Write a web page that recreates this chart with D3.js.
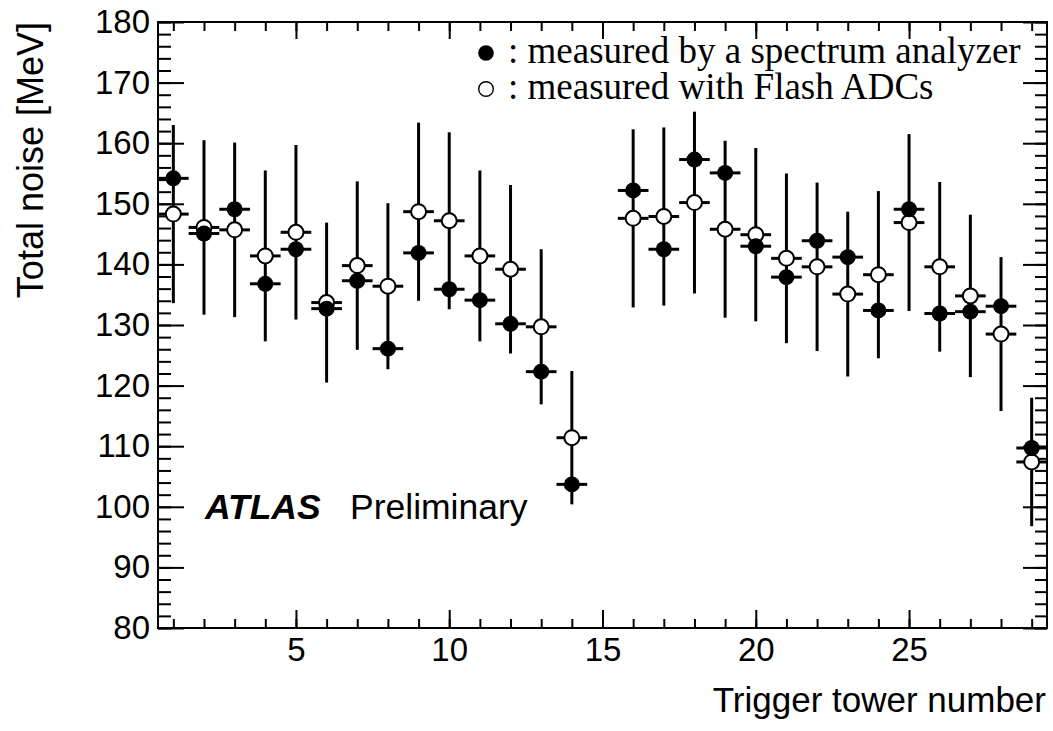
<!DOCTYPE html>
<html>
<head>
<meta charset="utf-8">
<script src="https://cdn.jsdelivr.net/npm/d3@7"></script>
<style>
  body { margin: 0; background: #fff; }
  svg { display: block; }
</style>
</head>
<body>
<div id="chart"></div>
<script>
// tower numbers (15 is missing in the measurement)
const towers = [1,2,3,4,5,6,7,8,9,10,11,12,13,14,16,17,18,19,20,21,22,23,24,25,26,27,28,29];
// spectrum analyzer (filled)
const analyzer = [154.2,145.1,149.1,136.8,142.5,132.7,137.3,126.1,141.9,135.9,134.1,130.2,122.3,103.7,
                  152.2,142.5,157.3,155.1,143.0,137.9,143.9,141.2,132.4,149.1,131.9,132.2,133.1,109.7];
// flash ADCs (open) and their errors
const flash = [148.3,146.1,145.7,141.4,145.3,133.7,139.8,136.4,148.7,147.2,141.4,139.2,129.7,111.4,
               147.6,147.9,150.2,145.8,144.9,141.0,139.6,135.1,138.3,146.9,139.6,134.8,128.5,107.4];
const flashErr = [14.7,14.4,14.4,14.1,14.4,13.2,13.9,13.7,14.7,14.6,14.1,13.9,12.8,11.0,
                  14.7,14.7,15.0,14.6,14.3,14.0,13.9,13.6,13.8,14.6,14.0,13.4,12.7,10.6];

const xMajor = [5,10,15,20,25];
const xMinor = d3.range(1,30);
const yMajor = d3.range(80,181,10);
const yMinor = d3.range(80,181,2);

const W = 1053, H = 731;
const mLeft = 158, mRight = 1047, mTop = 22, mBottom = 628;

const x = d3.scaleLinear().domain([0.5, 29.5]).range([mLeft, mRight]);
const y = d3.scaleLinear().domain([80, 180]).range([mBottom, mTop]);

const sans = '"Liberation Sans", Arial, Helvetica, sans-serif';
const serif = '"Liberation Serif", "Times New Roman", serif';

const svg = d3.select('#chart').append('svg')
  .attr('width', W)
  .attr('height', H);

svg.append('rect')
  .attr('width', W)
  .attr('height', H)
  .style('fill', '#fff');

function styleAxis(g) {
  g.select('.domain').remove();
  g.selectAll('line').style('stroke', '#000').style('stroke-width', 2);
  g.selectAll('text').style('font-family', sans).style('font-size', '33px').style('fill', '#000');
}

// bottom axis
svg.append('g').attr('transform', `translate(0,${mBottom})`)
  .call(d3.axisBottom(x).tickValues(xMinor).tickSize(-9).tickSizeOuter(0).tickFormat(''))
  .call(styleAxis);
svg.append('g').attr('transform', `translate(0,${mBottom})`)
  .call(d3.axisBottom(x).tickValues(xMajor).tickSize(-18).tickSizeOuter(0).tickPadding(10))
  .call(styleAxis);

// top axis
svg.append('g').attr('transform', `translate(0,${mTop})`)
  .call(d3.axisTop(x).tickValues(xMinor).tickSize(-9).tickSizeOuter(0).tickFormat(''))
  .call(styleAxis);
svg.append('g').attr('transform', `translate(0,${mTop})`)
  .call(d3.axisTop(x).tickValues(xMajor).tickSize(-17).tickSizeOuter(0).tickFormat(''))
  .call(styleAxis);

// left axis
svg.append('g').attr('transform', `translate(${mLeft},0)`)
  .call(d3.axisLeft(y).tickValues(yMinor).tickSize(-13).tickSizeOuter(0).tickFormat(''))
  .call(styleAxis);
svg.append('g').attr('transform', `translate(${mLeft},0)`)
  .call(d3.axisLeft(y).tickValues(yMajor).tickSize(-26).tickSizeOuter(0).tickPadding(8))
  .call(styleAxis);

// right axis
svg.append('g').attr('transform', `translate(${mRight},0)`)
  .call(d3.axisRight(y).tickValues(yMinor).tickSize(-12).tickSizeOuter(0).tickFormat(''))
  .call(styleAxis);
svg.append('g').attr('transform', `translate(${mRight},0)`)
  .call(d3.axisRight(y).tickValues(yMajor).tickSize(-24).tickSizeOuter(0).tickFormat(''))
  .call(styleAxis);

// frame
svg.append('rect')
  .attr('x', mLeft)
  .attr('y', mTop)
  .attr('width', mRight - mLeft)
  .attr('height', mBottom - mTop)
  .style('fill', 'none')
  .style('stroke', '#000')
  .style('stroke-width', 2);

// axis titles
svg.append('text')
  .attr('x', 1046)
  .attr('y', 712)
  .attr('text-anchor', 'end')
  .style('font-family', sans)
  .style('font-size', '35px')
  .text('Trigger tower number');

svg.append('text')
  .attr('transform', 'translate(43,22) rotate(-90)')
  .attr('text-anchor', 'end')
  .style('font-family', sans)
  .style('font-size', '36px')
  .text('Total noise [MeV]');

const pts = towers.map((t, i) => ({t: t, a: analyzer[i], f: flash[i], e: flashErr[i]}));
const barW = 3, mR = 7.5;

// open points: error bars then markers
const gOpen = svg.append('g');
gOpen.selectAll('.ev').data(pts).join('line')
  .attr('class', 'ev')
  .attr('x1', d => x(d.t)).attr('x2', d => x(d.t))
  .attr('y1', d => y(d.f + d.e)).attr('y2', d => y(d.f - d.e))
  .style('stroke', '#000').style('stroke-width', barW);
gOpen.selectAll('.eh').data(pts).join('line')
  .attr('class', 'eh')
  .attr('x1', d => x(d.t - 0.5)).attr('x2', d => x(d.t + 0.5))
  .attr('y1', d => y(d.f)).attr('y2', d => y(d.f))
  .style('stroke', '#000').style('stroke-width', barW);
gOpen.selectAll('circle').data(pts).join('circle')
  .attr('cx', d => x(d.t)).attr('cy', d => y(d.f))
  .attr('r', mR)
  .style('fill', '#fff').style('stroke', '#000').style('stroke-width', 2);

// filled points
const gFill = svg.append('g');
gFill.selectAll('line').data(pts).join('line')
  .attr('x1', d => x(d.t - 0.5)).attr('x2', d => x(d.t + 0.5))
  .attr('y1', d => y(d.a)).attr('y2', d => y(d.a))
  .style('stroke', '#000').style('stroke-width', barW);
gFill.selectAll('circle').data(pts).join('circle')
  .attr('cx', d => x(d.t)).attr('cy', d => y(d.a))
  .attr('r', mR + 0.5)
  .style('fill', '#000');

// legend
svg.append('circle').attr('cx', 486).attr('cy', 53).attr('r', 7.8).style('fill', '#000');
svg.append('circle').attr('cx', 486).attr('cy', 89).attr('r', 7.3)
  .style('fill', 'none').style('stroke', '#000').style('stroke-width', 1.4);

svg.append('text')
  .attr('x', 508).attr('y', 63)
  .style('font-family', serif).style('font-size', '37px')
  .text(': measured by a spectrum analyzer');
svg.append('text')
  .attr('x', 508).attr('y', 99)
  .style('font-family', serif).style('font-size', '37px')
  .text(': measured with Flash ADCs');

// ATLAS label
const lab = svg.append('text')
  .attr('x', 205).attr('y', 519)
  .style('font-family', sans).style('font-size', '35.5px');
lab.append('tspan').style('font-weight', 'bold').style('font-style', 'italic').text('ATLAS');
lab.append('tspan').attr('x', 350).text('Preliminary');
</script>
</body>
</html>
